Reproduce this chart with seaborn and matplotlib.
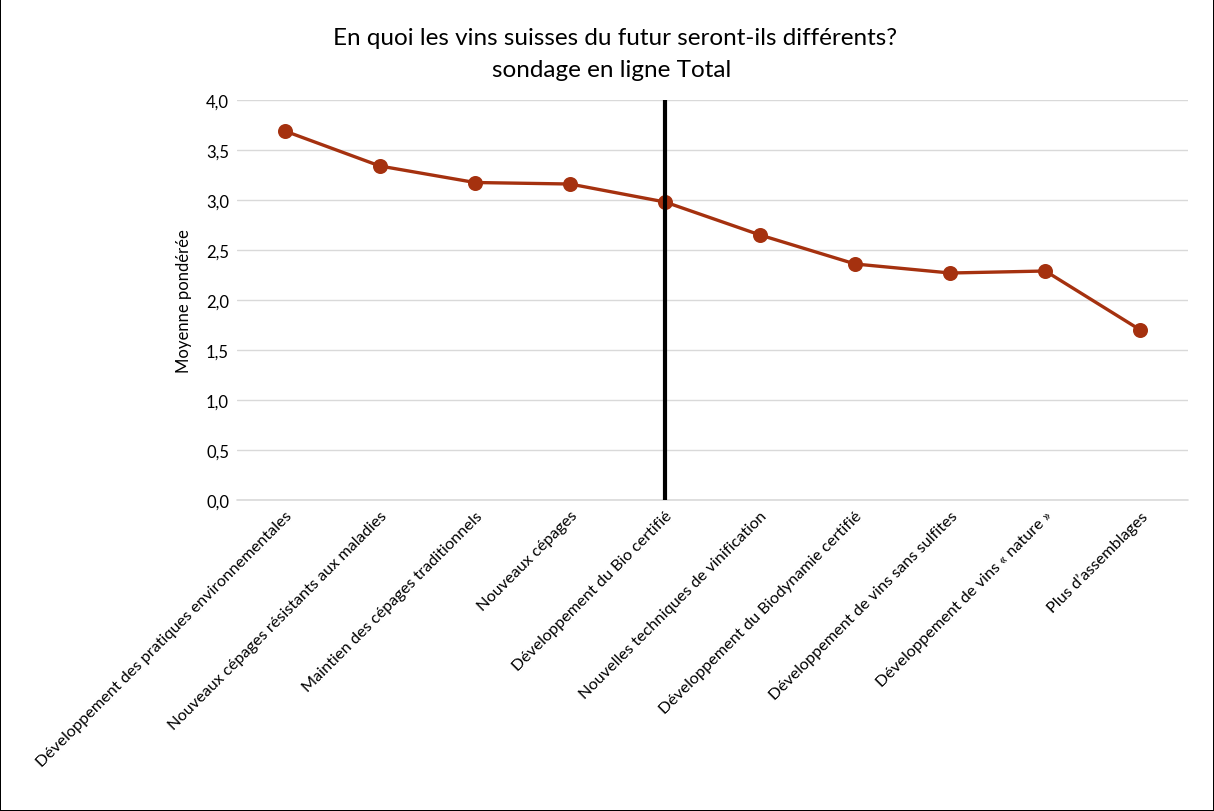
import numpy as np
import pandas as pd
import matplotlib
matplotlib.use("Agg")
import matplotlib.pyplot as plt
import seaborn as sns

sns.set_style("white")
plt.rcParams['font.family'] = ['Lato', 'DejaVu Sans']
plt.rcParams['text.color'] = 'black'
plt.rcParams['axes.labelcolor'] = 'black'
plt.rcParams['xtick.color'] = 'black'
plt.rcParams['ytick.color'] = 'black'

# données du sondage
categories = [
    "Développement des pratiques environnementales",
    "Nouveaux cépages résistants aux maladies",
    "Maintien des cépages traditionnels",
    "Nouveaux cépages",
    "Développement du Bio certifié",
    "Nouvelles techniques de vinification",
    "Développement du Biodynamie certifié",
    "Développement de vins sans sulfites",
    "Développement de vins « nature »",
    "Plus d’assemblages",
]
moyennes = [3.69, 3.34, 3.175, 3.16, 2.98, 2.65, 2.36, 2.27, 2.29, 1.70]
y_ticks = [0.0, 0.5, 1.0, 1.5, 2.0, 2.5, 3.0, 3.5, 4.0]
separateur = "Développement du Bio certifié"

df = pd.DataFrame({"categorie": categories, "moyenne": moyennes})

fig = plt.figure(figsize=(12.14, 8.12), dpi=100)
fig.patch.set_edgecolor("black")
fig.patch.set_linewidth(1.2)
ax = fig.add_axes([0.1955, 0.383, 0.783, 0.4926])

sns.pointplot(data=df, x="categorie", y="moyenne", color="#A5310F",
              markers="o", markersize=9, linewidth=2.4, ax=ax, zorder=3)

# ligne de séparation verticale
idx = categories.index(separateur)
ax.axvline(idx, color="black", linewidth=3, zorder=5)

ax.set_ylim(0, 4)
ax.set_xlim(-0.5, len(categories) - 0.5)
ax.set_yticks(y_ticks)
ax.set_yticklabels([f"{v:.1f}".replace(".", ",") for v in y_ticks], fontsize=12)
ax.yaxis.grid(True, color="#D9D9D9", linewidth=1)
ax.axhline(0, color="#D9D9D9", linewidth=1.2, clip_on=False, zorder=1)
ax.set_axisbelow(True)
for s in ax.spines.values():
    s.set_visible(False)
ax.tick_params(axis="both", length=0, pad=6)
ax.set_xticks(range(len(categories)))
ax.set_xticklabels(categories, rotation=45, ha="right", rotation_mode="anchor",
                   fontsize=11.7)
ax.set_xlabel("")
ax.set_ylabel("Moyenne pondérée", fontsize=12, labelpad=10)

fig.text(0.507, 0.952, "En quoi les vins suisses du futur seront-ils différents?",
         ha="center", va="center", fontsize=17.5)
fig.text(0.504, 0.913, "sondage en ligne Total", ha="center", va="center",
         fontsize=17.5)

fig.savefig("out.png", dpi=100)
